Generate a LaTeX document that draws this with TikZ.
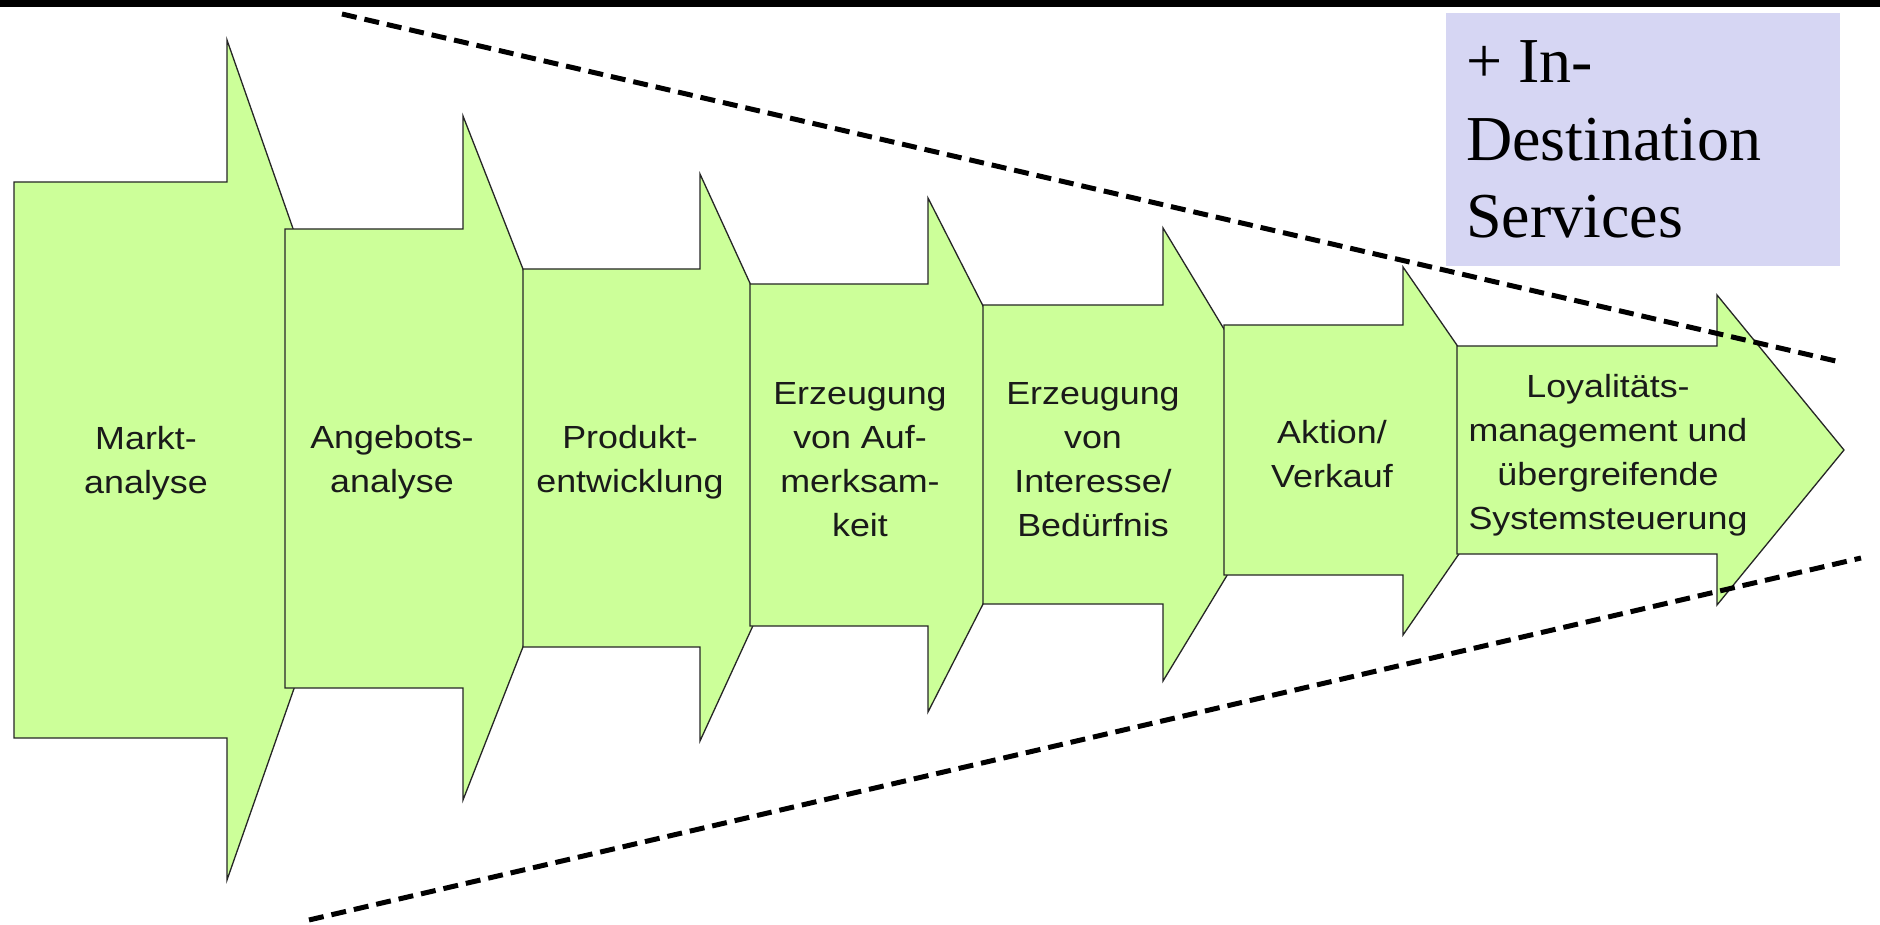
\documentclass[tikz,border=0pt]{standalone}
\usepackage{fontspec}
\newfontfamily\arrowfont[FakeStretch=1.12]{Liberation Sans}
\newfontfamily\boxfont{Liberation Serif}
\definecolor{arrowgreen}{RGB}{204,255,153}
\definecolor{lavender}{RGB}{214,214,243}
\definecolor{txtdark}{RGB}{26,26,26}
\tikzset{
  arrowshape/.style={fill=arrowgreen, draw=black!85, line width=1.3pt, line join=miter},
  arrowtext/.style={font=\arrowfont\fontsize{32}{44}\selectfont, text=txtdark, align=center, anchor=center, inner sep=0pt},
  boxtext/.style={font=\boxfont\fontsize{64}{77}\selectfont, text=black, anchor=base west, inner sep=0pt},
  funnel/.style={draw=black, line width=5pt, dash pattern=on 15pt off 8pt}
}
\begin{document}
\begin{tikzpicture}[x=1pt,y=-1pt]
\useasboundingbox (0,0) rectangle (1880,925);
\fill[white] (0,0) rectangle (1880,925);
% top black bar
\fill[black] (0,0) rectangle (1880,7);

% arrows (drawn left to right, each overlapping the previous tip)
\draw[arrowshape] (14,182) -- (227,182) -- (227,40) -- (374,460) -- (227,880) -- (227,738) -- (14,738) -- cycle;
\draw[arrowshape] (285,229) -- (463,229) -- (463,116) -- (597,458) -- (463,800) -- (463,688) -- (285,688) -- cycle;
\draw[arrowshape] (523,269) -- (700,269) -- (700,174) -- (830,458) -- (700,741) -- (700,647) -- (523,647) -- cycle;
\draw[arrowshape] (750,284) -- (928,284) -- (928,198) -- (1059,455) -- (928,712) -- (928,626) -- (750,626) -- cycle;
\draw[arrowshape] (983,305) -- (1163,305) -- (1163,228) -- (1300,455) -- (1163,681) -- (1163,604) -- (983,604) -- cycle;
\draw[arrowshape] (1224,325) -- (1403,325) -- (1403,267) -- (1530,451) -- (1403,635) -- (1403,575) -- (1224,575) -- cycle;
\draw[arrowshape] (1457,346) -- (1717,346) -- (1717,295) -- (1844,450) -- (1717,605) -- (1717,554) -- (1457,554) -- cycle;

% arrow labels
\node[arrowtext] (t1) at (146,463) {Markt-\\analyse};
\node[arrowtext] (t2) at (392,462) {Angebots-\\analyse};
\node[arrowtext] (t3) at (630,462) {Produkt-\\entwicklung};
\node[arrowtext] (t4) at (860,460) {Erzeugung\\von Auf-\\merksam-\\keit};
\node[arrowtext] (t5) at (1093,460) {Erzeugung\\von\\Interesse/\\Bedürfnis};
\node[arrowtext] (t6) at (1332,454) {Aktion/\\Verkauf};
\node[arrowtext] (t7) at (1608,455) {Loyalitäts-\\management und\\übergreifende\\Systemsteuerung};

% funnel lines
\coordinate (ftl) at (342,14);
\coordinate (ftr) at (1840,362);
\coordinate (fbl) at (309,920);
\coordinate (fbr) at (1861,558);
\draw[funnel] (ftl) -- (ftr);
\draw[funnel] (fbl) -- (fbr);

% lavender box
\node[fill=lavender, minimum width=394, minimum height=253, anchor=north west, inner sep=0pt] (box) at (1446,13) {};
\node[boxtext] (b1) at (1466,83) {+ In-};
\node[boxtext] (b2) at (1466,161) {Destination};
\node[boxtext] (b3) at (1466,238) {Services};
\end{tikzpicture}
\end{document}
